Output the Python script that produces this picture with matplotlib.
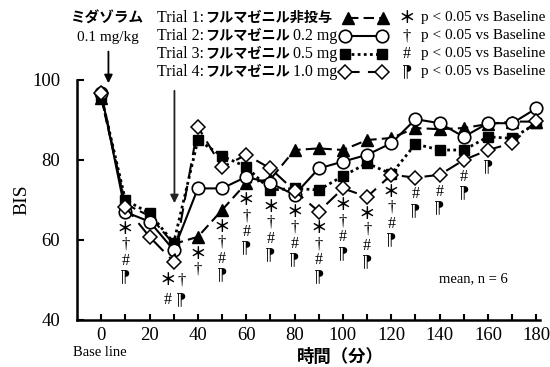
import matplotlib
matplotlib.use("Agg")
import matplotlib.pyplot as plt
from matplotlib.lines import Line2D

SERIF = "Liberation Serif"
JP = "Noto Sans CJK JP"

# ---- data ----
times = [0, 10, 20, 30, 40, 50, 60, 70, 80, 90, 100, 110, 120, 130, 140, 150, 160, 170, 180]
trial1 = [95.5, 69, 66, 59, 60.8, 67.5, 74.2, 75.2, 82.5, 82.9, 82.5, 85, 85.5, 88, 87.7, 88, 89, 89.6, 89.6]
trial2 = [96.8, 67, 64.6, 57.5, 72.9, 72.9, 75.8, 74.2, 71.3, 77.9, 79.6, 81.3, 84.2, 90.2, 89.2, 85.8, 89.2, 89.2, 92.9]
trial3 = [96, 70, 66.7, 59.3, 85, 81, 78.3, 72.5, 72.9, 72.5, 76, 79.2, 76.5, 84, 82.5, 82.5, 85.8, 85.4, 89.2]
trial4 = [96.8, 68.3, 60.8, 54.6, 88.3, 78.2, 81.3, 77.9, 72.3, 67.1, 72.9, 70.8, 76.3, 75.6, 76.3, 80, 82.5, 84.2, 89.8]

legend_labels = ["Trial 1:", "Trial 2:", "Trial 3:", "Trial 4:"]
legend_jp = ["フルマゼニル非投与", "フルマゼニル", "フルマゼニル", "フルマゼニル"]
legend_dose = ["", "0.2 mg", "0.5 mg", "1.0 mg"]
sig_symbols = ["＊", "†", "#", "⁋"]
sig_text = "p < 0.05 vs Baseline"

star_times = [10, 30, 40, 50, 60, 70, 80, 90, 100, 110, 120]
dagger_times = [10, 30, 40, 50, 60, 70, 80, 90, 100, 110, 120]
hash_times = [10, 30, 50, 60, 70, 80, 90, 100, 110, 120, 130, 140, 150]
flag_times = [10, 30, 50, 60, 70, 80, 90, 100, 110, 120, 130, 140, 150, 160]

xticks_major = [0, 20, 40, 60, 80, 100, 120, 140, 160, 180]
yticks = [40, 60, 80, 100]

# ---- figure ----
W, H = 550, 367
fig = plt.figure(figsize=(5.5, 3.67), dpi=100)
ax = fig.add_axes([77 / W, 1 - 320 / H, (540 - 77) / W, (320 - 80) / H])


def fp(x, y):
    return (x / W, 1 - y / H)


styles = [
    dict(marker="^", ms=8, mfc="black", mec="black", ls=(0, (5, 2.5)), lw=1.5, zorder=3),
    dict(marker="o", ms=9, mfc="white", mec="black", mew=1.2, ls="-", lw=1.5, zorder=4),
    dict(marker="s", ms=7.5, mfc="black", mec="black", ls=(0, (1, 1.2)), lw=2.0, zorder=3.5),
    dict(marker="D", ms=6.8, mfc="white", mec="black", mew=1.1, ls=(0, (7, 4)), lw=1.5, zorder=5),
]
series = [trial1, trial2, trial3, trial4]
for s, st in zip(series, styles):
    ax.plot(times, s, color="black", clip_on=False, **st)

ax.set_xlim(-10, 181.5)
ax.set_ylim(40, 100)
ax.set_xticks(xticks_major)
ax.set_xticks(times, minor=True)
ax.set_yticks(yticks)
for sp in ["top", "right"]:
    ax.spines[sp].set_visible(False)
for sp in ["left", "bottom"]:
    ax.spines[sp].set_linewidth(1.8)
ax.tick_params(axis="both", which="both", direction="in", width=1.5)
ax.tick_params(axis="x", which="major", length=4, pad=5)
ax.tick_params(axis="x", which="minor", length=4)
ax.tick_params(axis="y", length=5, pad=12)
for lab in ax.get_xticklabels() + ax.get_yticklabels():
    lab.set_fontfamily(SERIF)
    lab.set_fontsize(13.5)

# significance marks
sig_lists = [star_times, dagger_times, hash_times, flag_times]
sym_fonts = [[JP], [SERIF], [SERIF], ["DejaVu Serif", "DejaVu Sans"]]
sym_sizes = [12, 12, 11.5, 12]
sym_weights = ["bold", "normal", "normal", "normal"]
for t in times:
    i = times.index(t)
    low = min(trial1[i], trial2[i], trial3[i], trial4[i])
    present = [k for k in range(4) if t in sig_lists[k]]
    if not present:
        continue
    if t == 30:
        pos = {0: (t - 2.3, low - 4.6), 1: (t + 3.3, low - 4.6),
               2: (t - 2.3, low - 9.6), 3: (t + 3.3, low - 9.6)}
    else:
        pos = {k: (t, low - 4.2 - 4.0 * j) for j, k in enumerate(present)}
    for k in present:
        x, y = pos[k]
        ax.text(x, y, sig_symbols[k], ha="center", va="center", weight=sym_weights[k],
                family=sym_fonts[k], fontsize=sym_sizes[k], zorder=6)

# arrows
ax.annotate("", xy=(3, 98.5), xytext=(3, 107.8),
            arrowprops=dict(arrowstyle="-|>", lw=1.3, color="black", mutation_scale=12),
            annotation_clip=False)
ax.annotate("", xy=(30.3, 68.5), xytext=(30.3, 98),
            arrowprops=dict(arrowstyle="-|>", lw=1.3, color="#222222", mutation_scale=12),
            annotation_clip=False)

# labels
fig.text(*fp(108, 18), "ミダゾラム", family=JP, weight="bold", fontsize=10.5,
         ha="center", va="center")
fig.text(*fp(108, 37), "0.1 mg/kg", family=SERIF, fontsize=11, ha="center", va="center")
fig.text(*fp(22, 200), "BIS", family=SERIF, fontsize=14, rotation=90, ha="center", va="center")
fig.text(*fp(100, 352), "Base line", family=SERIF, fontsize=10.5, ha="center", va="center")
fig.text(*fp(340, 357), "時間（分）", family=JP, weight="bold", fontsize=12.5,
         ha="center", va="center")
fig.text(*fp(473, 279), "mean, n = 6", family=SERIF, fontsize=10.5, ha="center", va="center")

# legend
rows_y = [18, 36, 54, 72]
m1 = [348, 345, 345, 345]
m2 = [383, 382, 382, 382]
for r in range(4):
    y = rows_y[r]
    fig.text(*fp(157, y), legend_labels[r], family=SERIF, fontsize=11.5, ha="left", va="center")
    fig.text(*fp(205, y), legend_jp[r], family=JP, weight="bold", fontsize=10.2,
             ha="left", va="center")
    if legend_dose[r]:
        fig.text(*fp(337, y), legend_dose[r], family=SERIF, fontsize=11.5, ha="right", va="center")
    st = dict(styles[r])
    st.pop("zorder")
    xa, ya = fp(m1[r], y)
    xb, yb = fp(m2[r], y)
    ln = Line2D([xa, xb], [ya, yb], transform=fig.transFigure, color="black",
                markevery=[0, 1], **st)
    fig.add_artist(ln)
    fig.text(*fp(407, y), sig_symbols[r], family=sym_fonts[r], fontsize=sym_sizes[r],
             weight=sym_weights[r], ha="center", va="center")
    fig.text(*fp(421, y), sig_text, family=SERIF, fontsize=11, ha="left", va="center")

fig.savefig("out.png", dpi=100)
